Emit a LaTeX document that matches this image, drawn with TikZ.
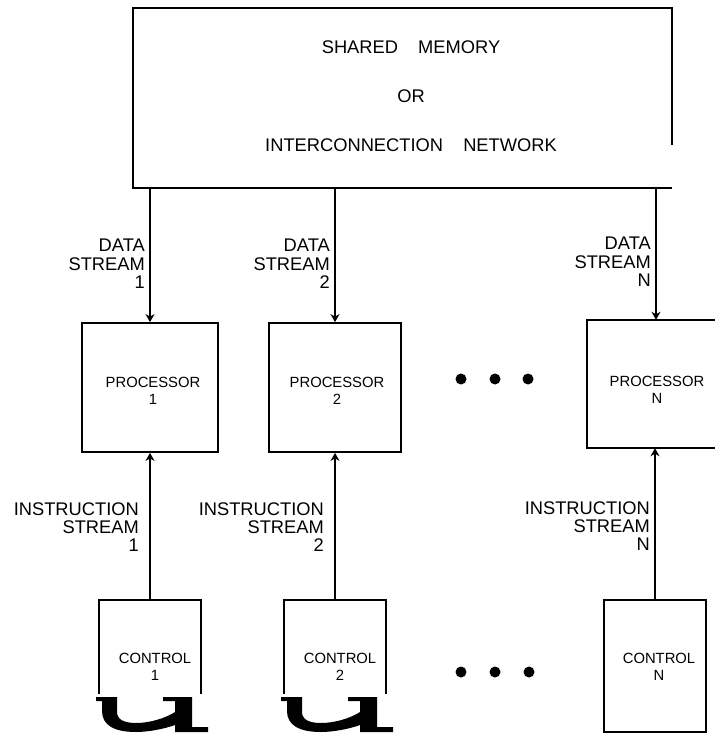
\documentclass[tikz,border=0pt]{standalone}
\usepackage{fontspec}
\setmainfont{Liberation Sans}
\usetikzlibrary{arrows.meta}
\begin{document}
\begin{tikzpicture}[x=1pt,y=-1pt,
  box/.style={draw, line width=1.8pt, inner sep=0pt},
  hidden/.style={inner sep=0pt},
  big/.style={font=\fontsize{18.3}{18}\selectfont, inner sep=0pt},
  lbl/.style={font=\fontsize{18.3}{18.3}\selectfont, align=right, anchor=east, inner sep=0pt},
  small/.style={font=\fontsize{14.8}{17}\selectfont, align=center, inner sep=0pt},
  flow/.style={line width=1.4pt, -{Stealth[length=8pt,width=9pt,inset=2.5pt]}},
  dot/.style={circle, fill, inner sep=0pt, minimum size=11pt},
  ushape/.pic={
    \fill (0,0) -- (21,0) -- (21,15) .. controls (21,23) and (29,26) .. (40,26)
      .. controls (54,26) and (70,21) .. (79,15) -- (79,4) -- (67,4) -- (67,0)
      -- (96,0) -- (96,30) -- (112,30) -- (112,35) -- (79,35) -- (79,28)
      .. controls (68,32) and (52,35) .. (40,35) .. controls (18,35) and (6,28) .. (6,14)
      -- (6,4) -- (0,4) -- cycle;
  }]
\useasboundingbox (0,0) rectangle (714,735);

% shared memory box (open at lower right)
\node[hidden, minimum width=539pt, minimum height=180pt] (mem) at (402.5,98) {};
\draw[line width=1.8pt] ([yshift=43pt]mem.south east) -- (mem.north east) -- (mem.north west) -- (mem.south west) -- (mem.south east);
\node[big] (m1) at (411,47) {SHARED\hspace{1.1em}MEMORY};
\node[big] (m2) at (411,96) {OR};
\node[big] (m3) at (411,145) {INTERCONNECTION\hspace{1.1em}NETWORK};

% processors
\node[box, minimum width=136pt, minimum height=129pt] (p1) at (150,387.5) {};
\node[box, minimum width=132pt, minimum height=129pt] (p2) at (335,387.5) {};
\node[hidden, minimum width=138pt, minimum height=128pt] (pN) at (656,384) {};
\draw[line width=1.8pt] (pN.north east) -- (pN.north west) -- (pN.south west) -- (pN.south east);
\node[small] (p1t) at (153,391) {PROCESSOR\\1};
\node[small] (p2t) at (337,391) {PROCESSOR\\2};
\node[small] (pNt) at (657,390) {PROCESSOR\\N};

% data streams
\draw[flow] (p1.north |- mem.south) -- (p1.north);
\draw[flow, line width=2.4pt] (p2.north |- mem.south) -- (p2.north);
\draw[flow] (pN.north |- mem.south) -- (pN.north);
\node[lbl] (d1) at (145,264) {DATA\\STREAM\\1};
\node[lbl] (d2) at (330,264) {DATA\\STREAM\\2};
\node[lbl] (dN) at (651,262) {DATA\\STREAM\\N};

% dots
\node[dot] (a1) at (461,379) {};
\node[dot] (a2) at (495,379) {};
\node[dot] (a3) at (528,379) {};
\node[dot] (b1) at (461,672) {};
\node[dot] (b2) at (495,672) {};
\node[dot] (b3) at (529,672) {};

% controls
\node[hidden, minimum width=102pt, minimum height=94pt] (c1) at (150,647) {};
\draw[line width=1.6pt] (c1.south west) -- (c1.north west) -- (c1.north east) -- (c1.south east);
\node[hidden, minimum width=102pt, minimum height=94pt] (c2) at (335,647) {};
\draw[line width=1.6pt] (c2.south west) -- (c2.north west) -- (c2.north east) -- (c2.south east);
\node[box, line width=1.6pt, minimum width=102pt, minimum height=132pt] (cN) at (655,666) {};
\node[small] (c1t) at (155,667) {CONTROL\\1};
\node[small] (c2t) at (340,667) {CONTROL\\2};
\node[small] (cNt) at (659,667) {CONTROL\\N};
\pic (u1) at (96,697) {ushape};
\pic (u2) at (281,697) {ushape};

% instruction streams
\draw[flow] (c1.north) -- (c1.north |- p1.south);
\draw[flow] (c2.north) -- (c2.north |- p2.south);
\draw[flow] (cN.north) -- (cN.north |- pN.south);
\node[lbl] (i1) at (139,527) {INSTRUCTION\\STREAM\\1};
\node[lbl] (i2) at (324,527) {INSTRUCTION\\STREAM\\2};
\node[lbl] (iN) at (650,526) {INSTRUCTION\\STREAM\\N};
\end{tikzpicture}
\end{document}
